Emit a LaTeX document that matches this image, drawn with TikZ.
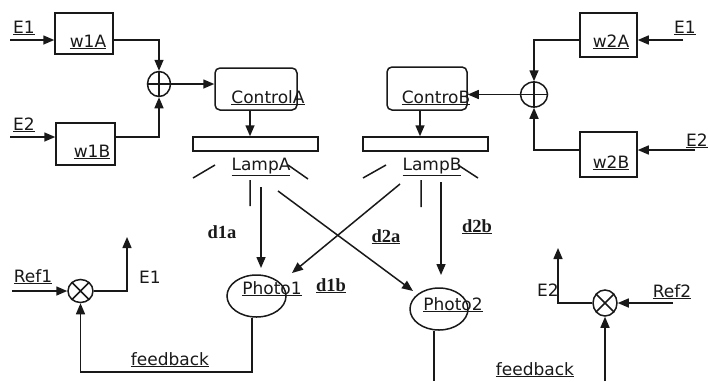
\documentclass[tikz,border=0pt]{standalone}
\usepackage{fontspec}
\setmainfont{DejaVu Sans}
\newfontfamily\serifbold{Liberation Serif}
\usetikzlibrary{arrows.meta,shapes.geometric,calc}
\begin{document}
\begin{tikzpicture}[x=1pt,y=-1pt, line width=1.5pt, color={black!90},
 box/.style={draw, rectangle, inner sep=0},
 rbox/.style={draw, rectangle, rounded corners=5pt, inner sep=0},
 junc/.style={draw, ellipse, inner sep=0},
 lbl/.style={font=\fontsize{17}{20}\selectfont, inner sep=0, anchor=base},
 dlbl/.style={font=\serifbold\bfseries\fontsize{18.5}{20}\selectfont, inner sep=0, anchor=base},
 arr/.style={-{Triangle[length=11pt,width=9pt]}}]
\useasboundingbox (0,0) rectangle (708,381);
\fill[white] (0,0) rectangle (708,381);
% blocks
\node[box, minimum width=58pt, minimum height=41pt] (w1A) at (84,33.5) {};
\node[box, minimum width=59pt, minimum height=42pt] (w1B) at (85.5,144) {};
\node[box, minimum width=57pt, minimum height=44pt] (w2A) at (608.5,35) {};
\node[box, minimum width=57pt, minimum height=45pt] (w2B) at (608.5,154.5) {};
\node[rbox, minimum width=82pt, minimum height=42pt] (ctrlA) at (256,89) {};
\node[rbox, minimum width=80pt, minimum height=43pt] (ctrlB) at (427,88.5) {};
\node[box, minimum width=125pt, minimum height=14pt] (lampA) at (255.5,144) {};
\node[box, minimum width=125pt, minimum height=14pt] (lampB) at (425.5,144) {};
\node[junc, minimum width=23pt, minimum height=25pt] (sum1) at (159,84) {};
\node[junc, minimum width=27pt, minimum height=25pt] (sum2) at (534,94.5) {};
\node[junc, minimum width=25pt, minimum height=23pt] (mul1) at (80.5,291) {};
\node[junc, minimum width=24pt, minimum height=26pt] (mul2) at (605,303) {};
\node[junc, minimum width=59pt, minimum height=42pt] (ph1) at (256.5,296) {};
\node[junc, minimum width=58pt, minimum height=42pt] (ph2) at (439,309) {};
% junction marks
\draw (sum1.north) -- (sum1.south) (sum1.west) -- (sum1.east);
\draw (sum2.north) -- (sum2.south) (sum2.west) -- (sum2.east);
\draw (mul1.45) -- (mul1.225) (mul1.135) -- (mul1.315);
\draw (mul2.45) -- (mul2.225) (mul2.135) -- (mul2.315);
% labels
\node[lbl] (tE1L) at (24,33) {\underline{E1}};
\node[lbl] (tE2L) at (24,130) {\underline{E2}};
\node[lbl] (tw1A) at (88,47) {\underline{w1A}};
\node[lbl] (tw1B) at (92,157) {\underline{w1B}};
\node[lbl] (tcA) at (268,103) {\underline{ControlA}};
\node[lbl] (tcB) at (436,103) {\underline{ControB}};
\node[lbl] (tlA) at (261,170) {\underline{LampA}};
\node[lbl] (tlB) at (432,170) {\underline{LampB}};
\node[lbl] (tp1) at (272,294) {\underline{Photo1}};
\node[lbl] (tp2) at (453,310) {\underline{Photo2}};
\node[lbl] (tR1) at (33,282) {\underline{Ref1}};
\node[lbl] (tE1B) at (150,283) {E1};
\node[lbl] (tfb1) at (170,365) {\underline{feedback}};
\node[lbl] (tR2) at (672,297) {\underline{Ref2}};
\node[lbl] (tE2B) at (548,296) {E2};
\node[lbl] (tfb2) at (535,375) {\underline{feedback}};
\node[lbl] (tw2A) at (611,47) {\underline{w2A}};
\node[lbl] (tw2B) at (611,168) {\underline{w2B}};
\node[lbl] (tE1R) at (685,33) {\underline{E1}};
\node[lbl] (tE2R) at (697,146) {\underline{E2}};
\node[dlbl] (td1a) at (222,238) {d1a};
\node[dlbl] (td2a) at (386,242) {\underline{d2a}};
\node[dlbl] (td1b) at (331,291) {\underline{d1b}};
\node[dlbl] (td2b) at (477,232) {\underline{d2b}};
% upper left connectors
\coordinate (e1L) at (10,40);
\coordinate (e2L) at (10,137);
\draw[arr] (e1L) -- (e1L -| w1A.west);
\draw[arr] (e2L) -- (e2L -| w1B.west);
\draw[arr] (w1A.east |- e1L) -- (sum1.north |- e1L) -- (sum1.north);
\draw[arr] (w1B.east |- e2L) -- (sum1.south |- e2L) -- (sum1.south);
\draw[arr] (sum1.east) -- (sum1.east -| ctrlA.west);
\coordinate (xa) at (250,0);
\draw[arr] (ctrlA.south -| xa) -- (lampA.north -| xa);
\coordinate (xb) at (420,0);
\draw[arr] (ctrlB.south -| xb) -- (lampB.north -| xb);
% upper right connectors
\draw[arr] (sum2.west) -- (sum2.west -| ctrlB.east);
\coordinate (e1R) at (683,40);
\coordinate (e2R) at (695,150);
\draw[arr] (e1R) -- (e1R -| w2A.east);
\draw[arr] (e2R) -- (e2R -| w2B.east);
\draw[arr] (w2A.west |- e1R) -- (sum2.north |- e1R) -- (sum2.north);
\draw[arr] (w2B.west |- e2R) -- (sum2.south |- e2R) -- (sum2.south);
% lamp rays
\draw (193,178) -- (215,165) (288,165) -- (308,179) (250,180) -- (250,206);
\draw (363,178) -- (386,165) (458,165) -- (478,178) (421,180) -- (421,207);
% light paths
\coordinate (aA1) at (261,187); \coordinate (tA1) at (261,268);
\coordinate (aA2) at (278,191); \coordinate (tA2) at (413,291);
\coordinate (aB1) at (400,184); \coordinate (tB1) at (292,273);
\coordinate (aB2) at (441,182); \coordinate (tB2) at (441,275);
\draw[arr] (aA1) -- (tA1);
\draw[arr] (aA2) -- (tA2);
\draw[arr] (aB1) -- (tB1);
\draw[arr] (aB2) -- (tB2);
% feedback loops
\coordinate (fb1) at (252,372);
\draw[arr] (ph1.south -| fb1) -- (fb1) -- (mul1.south |- fb1) -- (mul1.south);
\coordinate (p2b) at (434,381);
\draw (ph2.south -| p2b) -- (p2b);
\coordinate (r1) at (12,291);
\draw[arr] (r1) -- (mul1.west);
\coordinate (o1) at (127,237);
\draw[arr] (mul1.east) -- (mul1.east -| o1) -- (o1);
\coordinate (r2) at (673,303);
\draw[arr] (r2) -- (mul2.east);
\coordinate (o2) at (558,248);
\draw[arr] (mul2.west) -- (mul2.west -| o2) -- (o2);
\coordinate (fb3) at (605,381);
\draw[arr] (fb3) -- (mul2.south);
\end{tikzpicture}
\end{document}
